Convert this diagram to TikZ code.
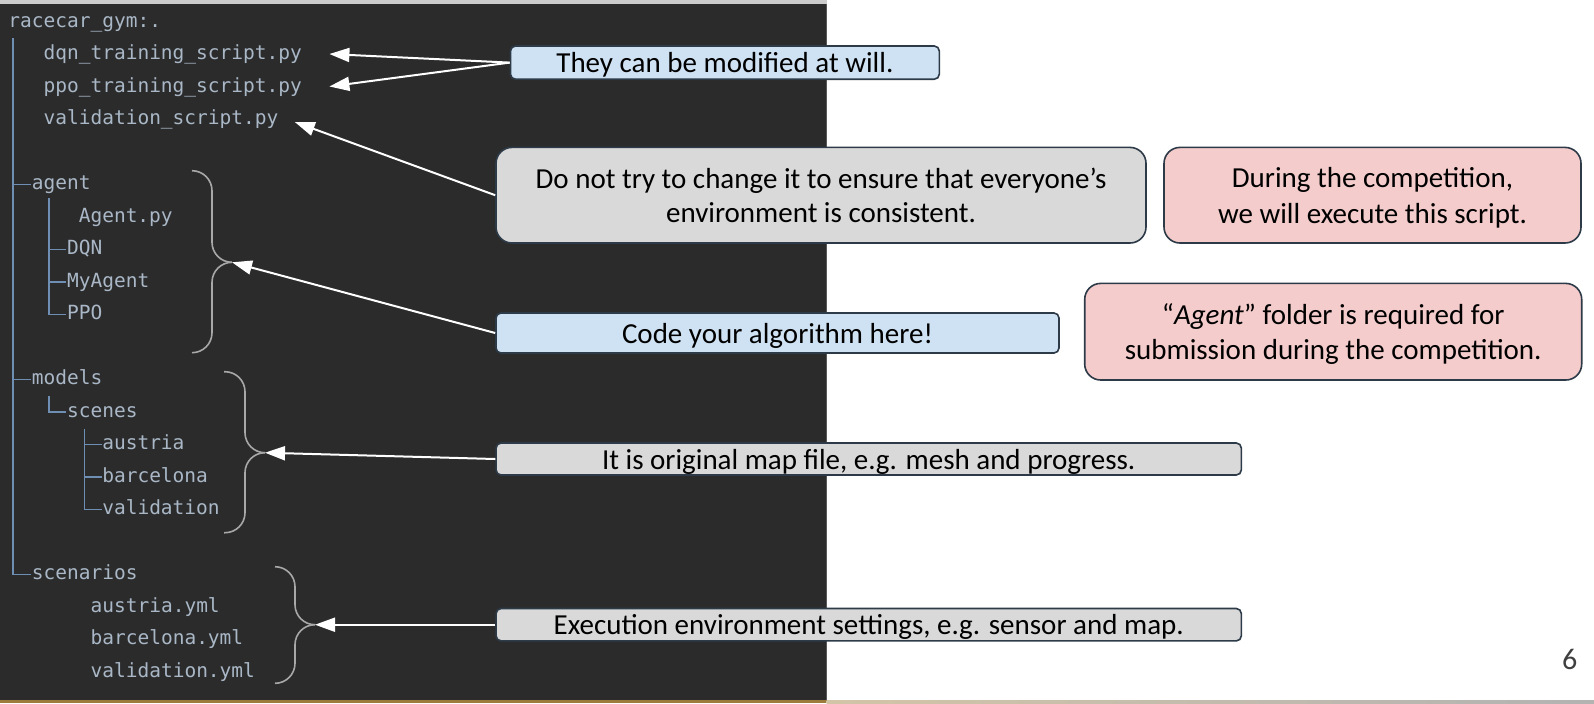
\documentclass[tikz,border=0pt]{standalone}
\usepackage{fontspec}
\setmainfont{Carlito}
\newfontfamily\codefont{DejaVu Sans Mono}
\usetikzlibrary{arrows.meta}
\definecolor{panel}{HTML}{2B2B2B}
\definecolor{codetext}{HTML}{A9B7C6}
\definecolor{treeline}{HTML}{6E8FB3}
\definecolor{bracecol}{HTML}{A8A8A8}
\definecolor{boxedge}{HTML}{2D3A48}
\definecolor{bluefill}{HTML}{CFE2F3}
\definecolor{greyfill}{HTML}{D9D9D9}
\definecolor{pinkfill}{HTML}{F4CCCC}
\definecolor{goldbar}{HTML}{9C7C3C}
\definecolor{pagenum}{HTML}{404040}
\newcommand\mybrace[6]{%
  \draw[bracestyle] (#1,#4) -- (#2,#4) -- (#2,#5) -- (#3,#5);
  \draw[bracestyle] (#3,#5) -- (#2,#5) -- (#2,#6) -- (#1,#6);}
\begin{document}
\begin{tikzpicture}[x=0.5pt,y=-0.5pt,
  code/.style={anchor=base west, inner sep=0pt, font=\codefont\fontsize{9.75}{11}\selectfont, text=codetext},
  tree/.style={draw=treeline, line width=0.8pt},
  bracestyle/.style={draw=bracecol, line width=0.8pt, rounded corners=10pt},
  note/.style={draw=boxedge, line width=0.8pt, inner sep=0pt, align=center, font=\fontsize{14.5}{17}\selectfont, text=black},
  notesmall/.style={note, rounded corners=2.5pt, text depth=0pt},
  notebig/.style={note, rounded corners=8pt},
  notepink/.style={notebig, fill=pinkfill, text depth=0pt, font=\fontsize{14.5}{17.8}\selectfont},
  pointer/.style={draw=white, line width=1pt, -{Triangle[length=10pt,width=7pt]}}
]
\useasboundingbox (0,0) rectangle (1594,703);
\fill[white] (0,0) rectangle (1594,703);
% dark code panel
\fill[panel] (0,4) rectangle (826.5,700);
\fill[black!20] (0,0) rectangle (826.5,4);
\draw[black!65, line width=0.5pt] (826.5,4) -- (826.5,700);
% bottom bar
\fill[goldbar] (0,700) rectangle (826.5,703);
\fill[left color=goldbar!45, right color=black!30] (826.5,700.5) rectangle (1594,703);

% file tree text
\node[code] (root)   at (8,27.3)     {racecar\_gym:.};
\node[code] (dqn)    at (43.2,59.8)  {dqn\_training\_script.py};
\node[code] (ppo)    at (43.2,92.3)  {ppo\_training\_script.py};
\node[code] (val)    at (43.2,124.8) {validation\_script.py};
\node[code] (agent)  at (31.5,189.8) {agent};
\node[code] (agentpy) at (78.4,222.3) {Agent.py};
\node[code] (dqndir) at (66.7,254.8) {DQN};
\node[code] (myag)   at (66.7,287.3) {MyAgent};
\node[code] (ppodir) at (66.7,319.8) {PPO};
\node[code] (models) at (31.5,384.8) {models};
\node[code] (scenes) at (66.7,417.3) {scenes};
\node[code] (austria) at (101.9,449.8) {austria};
\node[code] (barca)  at (101.9,482.3) {barcelona};
\node[code] (valid)  at (101.9,514.8) {validation};
\node[code] (scen)   at (31.5,579.8) {scenarios};
\node[code] (ayml)   at (90.2,612.3) {austria.yml};
\node[code] (byml)   at (90.2,644.8) {barcelona.yml};
\node[code] (vyml)   at (90.2,677.3) {validation.yml};

% tree lines
\draw[tree] (13,38) -- (13,574.3) -- (31,574.3);
\draw[tree] (13,184.3) -- (31,184.3);
\draw[tree] (13,379.3) -- (31,379.3);
\draw[tree] (49.2,198) -- (49.2,314.3) -- (66,314.3);
\draw[tree] (49.2,249.3) -- (66,249.3);
\draw[tree] (49.2,281.8) -- (66,281.8);
\draw[tree] (49.2,396) -- (49.2,411.8) -- (66,411.8);
\draw[tree] (84.3,429) -- (84.3,509.3) -- (101.5,509.3);
\draw[tree] (84.3,444.3) -- (101.5,444.3);
\draw[tree] (84.3,476.8) -- (101.5,476.8);

% braces
\mybrace{192}{212}{232}{170.7}{262.3}{352.7}
\mybrace{224}{245}{265}{371.7}{452.7}{532.7}
\mybrace{275}{295}{315}{566.7}{624.7}{683.3}

% arrow tips
\coordinate (tipdqn) at (329.4,54);
\coordinate (tipppo) at (329.4,86.5);
\coordinate (tipval) at (294.8,122);
\coordinate (tipagent) at (232,262.3);
\coordinate (tipmodels) at (265,452.7);
\coordinate (tipscen) at (315,624.7);

% note boxes
\node[notesmall, fill=bluefill, minimum width=214.4pt, minimum height=16.6pt] (modify) at (724.9,62.6) {They can be modified at will.};
\node[notebig, fill=greyfill, minimum width=325pt, minimum height=47.8pt] (donot) at (821,195.2) {Do not try to change it to ensure that everyone’s\\environment is consistent.};
\node[notepink, minimum width=208.5pt, minimum height=47.8pt] (during) at (1372.5,195.2) {During the competition,\\we will execute this script.};
\node[notepink, minimum width=248.5pt, minimum height=48.3pt] (agentreq) at (1333.2,331.7) {“\textit{Agent}” folder is required for\\submission during the competition.};
\node[notesmall, fill=bluefill, minimum width=281.5pt, minimum height=20pt] (code) at (777.5,333) {Code your algorithm here!};
\node[notesmall, fill=greyfill, minimum width=372.6pt, minimum height=16pt] (mapfile) at (868.7,459) {It is original map file, e.g. mesh and progress.};
\node[notesmall, fill=greyfill, minimum width=372.6pt, minimum height=16.2pt] (exec) at (868.7,624.7) {Execution environment settings, e.g. sensor and map.};

% arrows
\draw[pointer] (modify.west) -- (tipdqn);
\draw[pointer] (modify.west) -- (tipppo);
\draw[pointer] (donot.west) -- (tipval);
\draw[pointer] (code.west) -- (tipagent);
\draw[pointer] (mapfile.west) -- (tipmodels);
\draw[pointer] (exec.west) -- (tipscen);

% page number
\node[anchor=base, inner sep=0pt, font=\fontsize{15}{18}\selectfont, text=pagenum] (page) at (1569.7,669.3) {6};
\end{tikzpicture}
\end{document}
